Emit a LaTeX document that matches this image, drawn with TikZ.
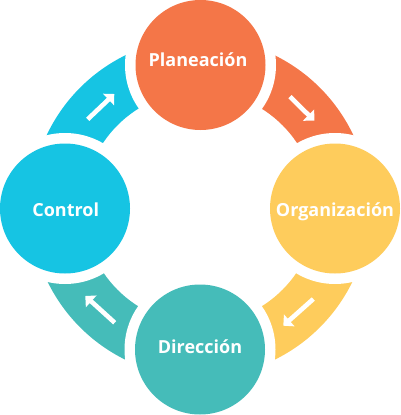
\documentclass[tikz,border=0pt]{standalone}
\usepackage{fontspec}
\setmainfont{Open Sans}
\usetikzlibrary{arrows.meta}
\definecolor{corange}{RGB}{244,118,72}
\definecolor{cyellow}{RGB}{254,204,92}
\definecolor{cteal}{RGB}{69,188,185}
\definecolor{ccyan}{RGB}{22,196,227}
\tikzset{
  stage/.style={circle, inner sep=0pt, minimum size=130pt},
  gapdisc/.style={circle, inner sep=0pt, minimum size=151pt, fill=white},
  lbl/.style={anchor=base, text=white, inner sep=0pt, font=\bfseries\fontsize{18}{20}\selectfont},
  flow/.style={white, line width=4.6pt, -{Triangle[length=8pt,width=15.5pt]}}
}
\begin{document}
\begin{tikzpicture}[x=1pt,y=-1pt]
\useasboundingbox (0,0) rectangle (400,415);
\coordinate (ctr) at (200,207.5);
% bands
\begin{scope}
\clip (ctr) rectangle (0,0);
\fill[ccyan, even odd rule] (ctr) circle (169.5pt) (ctr) circle (116.5pt);
\end{scope}
\begin{scope}
\clip (ctr) rectangle (400,0);
\fill[corange, even odd rule] (ctr) circle (169.5pt) (ctr) circle (116.5pt);
\end{scope}
\begin{scope}
\clip (ctr) rectangle (400,415);
\fill[cyellow, even odd rule] (ctr) circle (169.5pt) (ctr) circle (116.5pt);
\end{scope}
\begin{scope}
\clip (ctr) rectangle (0,415);
\fill[cteal, even odd rule] (ctr) circle (169.5pt) (ctr) circle (116.5pt);
\end{scope}
% gaps
\node[gapdisc] (gt) at (200.5,65) {};
\node[gapdisc] (gl) at (65,208.5) {};
\node[gapdisc] (gr) at (335,208.5) {};
\node[gapdisc] (gb) at (200,349.5) {};
% circles
\node[stage, fill=corange] (plan) at (200.5,65) {};
\node[stage, fill=ccyan] (ctrl) at (65,208.5) {};
\node[stage, fill=cyellow] (org) at (335,208.5) {};
\node[stage, fill=cteal] (dir) at (200,349.5) {};
% labels
\node[lbl] (tplan) at (198,66.7) {Planeación};
\node[lbl] (tctrl) at (65.7,216) {Control};
\node[lbl] (torg) at (335,216) {Organización};
\node[lbl] (tdir) at (200,353.3) {Dirección};
% arrows
\coordinate (a1s) at (87.7,119.3); \coordinate (a1e) at (114.3,94);
\coordinate (a2s) at (290,96.7);   \coordinate (a2e) at (314.3,120.7);
\coordinate (a3s) at (313.3,299);  \coordinate (a3e) at (283.3,325.7);
\coordinate (a4s) at (114.7,322.7);\coordinate (a4e) at (85.3,296);
\draw[flow] (a1s) -- (a1e);
\draw[flow] (a2s) -- (a2e);
\draw[flow] (a3s) -- (a3e);
\draw[flow] (a4s) -- (a4e);
\end{tikzpicture}
\end{document}
